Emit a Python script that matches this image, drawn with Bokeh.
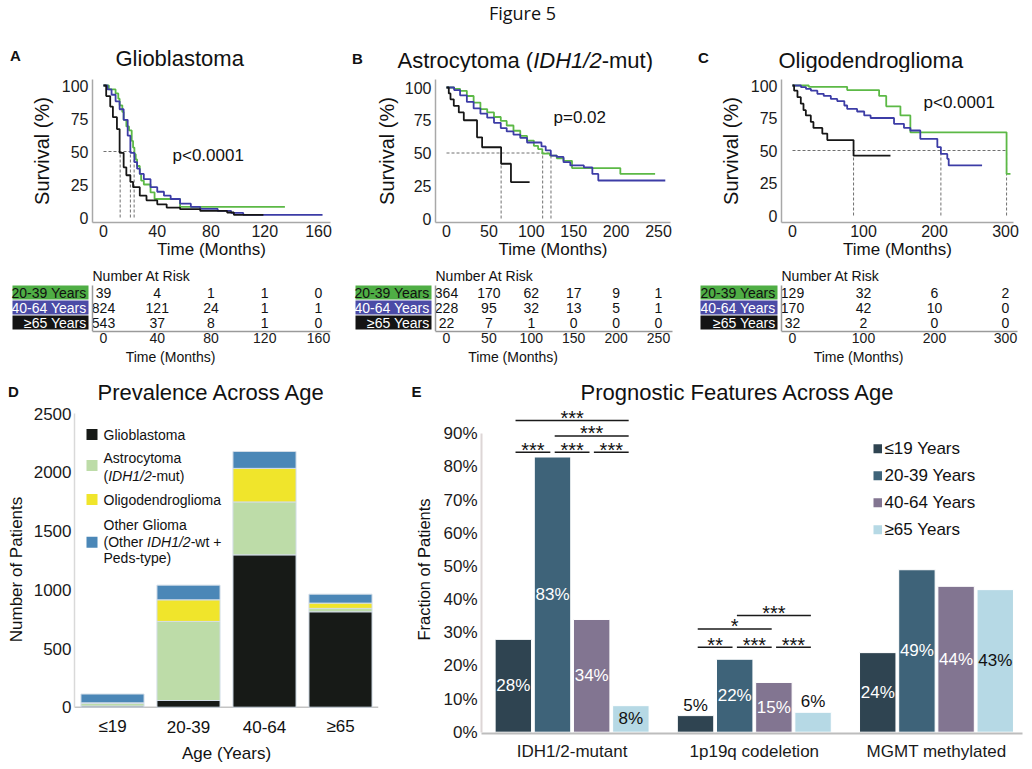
from bokeh.plotting import figure
from bokeh.models import Range1d, FixedTicker
from bokeh.layouts import column, row
from bokeh.embed import file_html
from bokeh.resources import INLINE
from bokeh.core.properties import value

FONT = "Liberation Sans"

# ======================= DATA =======================
km_groups = ["20-39 Years", "40-64 Years", "≥65 Years"]

# A: Glioblastoma (months, survival %)
gbm_t_2039 = [0, 4, 9, 11, 12, 14, 15, 17, 19, 21, 22, 23, 24, 25, 27, 28, 30, 35, 38, 57, 135]
gbm_s_2039 = [100, 97, 94, 90, 85, 80, 74, 69, 66, 58, 53, 48, 44, 39, 33, 28, 25, 19, 14, 8, 8]
gbm_t_4064 = [0, 3, 6, 9, 12, 15, 18, 20, 23, 25, 27, 30, 35, 40, 45, 50, 57, 65, 72, 85, 95, 104, 163]
gbm_s_4064 = [100, 97, 93, 88, 82, 74, 62, 49, 42, 37, 33, 29, 23, 19.5, 16.5, 14, 10.5, 8, 6.5, 5, 3.5, 2, 2]
gbm_t_65 = [0, 2, 5, 7, 10, 12, 15, 17, 20, 22, 27, 32, 40, 47, 57, 72, 92, 97, 119]
gbm_s_65 = [100, 92, 84, 76, 67, 49, 38, 32, 27, 23, 16.5, 13, 10, 7.5, 6.3, 5, 3.8, 2, 2]
gbm_medians = [22.8, 20.0, 12.4]
gbm_pvalue = "p<0.0001"

# B: Astrocytoma (IDH1/2-mut)
astro_t_2039 = [0, 9, 16, 24, 32, 40, 48, 56, 64, 71, 79, 87, 95, 103, 108, 113, 122, 130, 138, 148, 205, 246]
astro_s_2039 = [100, 99, 97.5, 93.5, 88.5, 83.5, 81, 77.5, 74.5, 71, 67, 63, 59.5, 55.5, 53, 49.5, 48, 46, 44, 38.5, 34, 34]
astro_t_4064 = [0, 9, 16, 24, 32, 40, 48, 56, 64, 71, 79, 87, 95, 112, 117, 123, 130, 138, 146, 162, 172, 179, 258]
astro_s_4064 = [100, 98, 94, 89, 84, 80, 77, 73, 69, 66.5, 64, 61.5, 58, 55, 52, 48, 47, 43, 40.5, 39, 34, 29, 29]
astro_t_65 = [0, 2.7, 4.7, 8.6, 14.5, 20.4, 36, 42, 64.4, 76, 98]
astro_s_65 = [100, 95.5, 91, 86, 81, 75, 62, 54.4, 41.8, 27.8, 27.8]
astro_medians = [113.4, 123.2, 64.4]
astro_pvalue = "p=0.02"

# C: Oligodendroglioma
oligo_t_2039 = [0, 23, 77, 122, 132, 152, 166, 301.5, 307]
oligo_s_2039 = [100, 99, 96.5, 92, 84, 77, 64, 32, 32]
oligo_t_4064 = [0, 12, 19, 26, 35, 44, 54, 63, 73, 77, 91, 101, 110, 143, 157, 166, 180, 204, 209, 218, 220, 267]
oligo_s_4064 = [100, 98.7, 97.4, 96, 93.6, 92, 89.7, 88, 84.6, 82, 80, 77, 75, 70.5, 67.4, 65.4, 59, 52.6, 47.4, 43.6, 38.5, 38.5]
oligo_t_65 = [0, 2.3, 7, 11.7, 15.5, 18.8, 25.8, 29.5, 42, 49, 86, 138]
oligo_s_65 = [100, 96, 91, 86, 81, 77, 72, 67.4, 63, 58, 46, 46]
oligo_medians = [301.5, 209, 86]
oligo_pvalue = "p<0.0001"

# Number at risk tables
gbm_risk_times = [0, 40, 80, 120, 160]
gbm_risk = [[39, 4, 1, 1, 0], [824, 121, 24, 1, 1], [543, 37, 8, 1, 0]]
astro_risk_times = [0, 50, 100, 150, 200, 250]
astro_risk = [[364, 170, 62, 17, 9, 1], [228, 95, 32, 13, 5, 1], [22, 7, 1, 0, 0, 0]]
oligo_risk_times = [0, 100, 200, 300]
oligo_risk = [[129, 32, 6, 2], [170, 42, 10, 0], [32, 2, 0, 0]]

# D: Prevalence across age (number of patients)
prev_ages = ["≤19", "20-39", "40-64", "≥65"]
prev_gbm = [10, 57, 1298, 813]
prev_astro = [22, 674, 451, 29]
prev_oligo = [5, 184, 286, 45]
prev_other = [75, 125, 144, 76]

# E: Prognostic features across age (% of patients)
feat_names = ["IDH1/2-mutant", "1p19q codeletion", "MGMT methylated"]
feat_ages = ["≤19 Years", "20-39 Years", "40-64 Years", "≥65 Years"]
frac_le19 = [28, 5, 24]
frac_2039 = [83, 22, 49]
frac_4064 = [34, 15, 44]
frac_ge65 = [8, 6, 43]
sig_feature = [0, 0, 0, 0, 0, 1, 1, 1, 1, 1]
sig_a = [0, 1, 0, 1, 2, 1, 0, 0, 1, 2]
sig_b = [3, 3, 1, 2, 3, 3, 2, 1, 2, 3]
sig_level = [94.0, 89.3, 84.4, 84.4, 84.4, 35.2, 31.1, 25.6, 25.6, 25.6]
sig_stars = ["***", "***", "***", "***", "***", "***", "*", "**", "***", "***"]

# ======================= STYLE =======================
KM_COLORS = ["#5cb946", "#3c3ca6", "#161616"]
BOX_FILL = ["#4fae45", "#4b4ba6", "#141414"]
BOX_TEXT = ["#111111", "#ffffff", "#ffffff"]
PREV_COLORS = ["#171a17", "#bddca8", "#f0e52b", "#4b87b7"]
FEAT_COLORS = ["#2f4451", "#3e6379", "#827591", "#b6d9e5"]
TXT = "#111111"

ARIAL_W = {'A': 667, 's': 500, 't': 278, 'r': 333, 'o': 556, 'c': 500, 'y': 500, 'm': 833,
           'a': 556, ' ': 278, '(': 333, ')': 333, 'I': 278, 'D': 722, 'H': 722, '1': 556,
           '/': 278, '2': 556, '-': 333, 'u': 556, 'O': 778, 'h': 556, 'e': 556, 'w': 722,
           '+': 584}


def text_w(s, size):
    return sum(ARIAL_W.get(ch, 556) for ch in s) / 1000.0 * size


class Frame:
    """Figure placed at screen pixel (L, T); anchors map screen pixels to data values."""
    def __init__(self, L, T, W, H, bl, br, bt, bb, xa, ya):
        self.L, self.T, self.W, self.H = L, T, W, H
        self.bl, self.br, self.bt, self.bb = bl, br, bt, bb
        self.FL, self.FR = L + bl, L + W - br
        self.FT, self.FB = T + bt, T + H - bb
        self.xa, self.ya = xa, ya
        self.sx = (xa[3] - xa[1]) / (xa[2] - xa[0])
        self.sy = (ya[3] - ya[1]) / (ya[2] - ya[0])

    def X(self, px):
        return self.xa[1] + (px - self.xa[0]) * self.sx

    def Y(self, py):
        return self.ya[1] + (py - self.ya[0]) * self.sy


PIX = ((0, 0, 100, 100), (0, 0, 100, -100))   # identity pixel mapping for strips


def new_fig(fr, xaxis="below", yaxis="left"):
    p = figure(width=fr.W, height=fr.H,
               x_range=Range1d(fr.X(fr.FL), fr.X(fr.FR)),
               y_range=Range1d(fr.Y(fr.FB), fr.Y(fr.FT)),
               x_axis_location=xaxis, y_axis_location=yaxis,
               output_backend="svg", toolbar_location=None, title=None,
               min_border_left=fr.bl, min_border_right=fr.br,
               min_border_top=fr.bt, min_border_bottom=fr.bb)
    p.outline_line_color = None
    p.grid.visible = False
    p.background_fill_color = "white"
    p.border_fill_color = "white"
    return p


def style_axes(p, tick_size, label_size, line_color, line_width=1.5):
    for ax in p.axis:
        ax.axis_line_color = line_color
        ax.axis_line_width = line_width
        ax.major_tick_line_color = None
        ax.minor_tick_line_color = None
        ax.major_tick_in = 0
        ax.major_tick_out = 0
        ax.minor_tick_in = 0
        ax.minor_tick_out = 0
        ax.major_label_text_font = FONT
        ax.major_label_text_font_size = f"{tick_size}px"
        ax.major_label_text_color = "#1a1a1a"
        ax.axis_label_text_font = FONT
        ax.axis_label_text_font_size = f"{label_size}px"
        ax.axis_label_text_font_style = "normal"
        ax.axis_label_text_color = TXT


def add_text(p, xs, ys, texts, size, color=TXT, align="center", baseline="middle",
             style="normal", font=FONT):
    p.text(x=xs, y=ys, text=texts, text_font=value(font), text_font_size=value(f"{size}px"),
           text_color=color, text_align=align, text_baseline=baseline,
           text_font_style=style)


def put(p, fr, px, py, text, size, **kw):
    add_text(p, [fr.X(px)], [fr.Y(py)], [text], size, **kw)


def put_runs(p, fr, px, py, runs, size):
    x = px
    for txt, st in runs:
        put(p, fr, x, py, txt, size, align="left", style=st)
        x += text_w(txt, size)


# ======================= TOP STRIP (figure title, A/B/C titles) =======================
frS1 = Frame(0, 0, 1030, 72, 0, 0, 0, 0, *PIX)
pS1 = new_fig(frS1, xaxis=None, yaxis=None)
put(pS1, frS1, 522, 12, "Figure 5", 18, font="Open Sans")
put(pS1, frS1, 15, 55, "A", 15, style="bold")
put(pS1, frS1, 115, 58, "Glioblastoma", 22, align="left")
put(pS1, frS1, 357, 58, "B", 15, style="bold")
put_runs(pS1, frS1, 397, 60, [("Astrocytoma (", "normal"), ("IDH1/2", "italic"), ("-mut)", "normal")], 22)
put(pS1, frS1, 703, 57, "C", 15, style="bold")
put(pS1, frS1, 778, 60, "Oligodendroglioma", 22, align="left")


# ======================= KM PANELS =======================
def km_panel(fr, curves, medians, pval, pval_px, xticks):
    p = new_fig(fr)
    style_axes(p, 16, 17, "#a8a8a8")
    p.xaxis.axis_label = "Time (Months)"
    p.yaxis.axis_label = "Survival (%)"
    p.yaxis.axis_label_text_font_size = "20px"
    p.xaxis.ticker = FixedTicker(ticks=xticks)
    p.yaxis.ticker = FixedTicker(ticks=[0, 25, 50, 75, 100])
    p.xaxis.major_label_standoff = 2
    p.xaxis.axis_label_standoff = 0
    p.yaxis.major_label_standoff = 4
    p.yaxis.axis_label_standoff = 6
    p.segment(x0=medians, y0=[0] * len(medians), x1=medians, y1=[50] * len(medians),
              line_color="#707070", line_dash="3 2", line_width=1)
    p.segment(x0=[0], y0=[50], x1=[max(medians)], y1=[50],
              line_color="#707070", line_dash="3 2", line_width=1)
    for (t, s), c in zip(curves, KM_COLORS):
        p.step(x=t, y=s, mode="after", line_color=c, line_width=1.8)
    put(p, fr, pval_px[0], pval_px[1], pval, 17, align="left")
    return p


frA = Frame(0, 72, 340, 194, 92, 10, 7, 44, xa=(103, 0, 318, 160), ya=(85, 100, 217, 0))
pA = km_panel(frA, [(gbm_t_2039, gbm_s_2039), (gbm_t_4064, gbm_s_4064), (gbm_t_65, gbm_s_65)],
              gbm_medians, gbm_pvalue, (172, 155), gbm_risk_times)

frB = Frame(340, 72, 350, 194, 95, 20, 7, 44, xa=(446, 0, 658, 250), ya=(87, 100, 218, 0))
pB = km_panel(frB, [(astro_t_2039, astro_s_2039), (astro_t_4064, astro_s_4064), (astro_t_65, astro_s_65)],
              astro_medians, astro_pvalue, (553, 117), astro_risk_times)
pB.yaxis.axis_label_standoff = 4

frC = Frame(690, 72, 340, 194, 91, 17, 7, 44, xa=(792, 0, 1005, 300), ya=(85, 100, 215, 0))
pC = km_panel(frC, [(oligo_t_2039, oligo_s_2039), (oligo_t_4064, oligo_s_4064), (oligo_t_65, oligo_s_65)],
              oligo_medians, oligo_pvalue, (923, 102), oligo_risk_times)


# ======================= RISK TABLES =======================
def risk_panel(fr, times, counts, box_l, box_r, vline_px, axis_r_px):
    p = new_fig(fr, yaxis=None)
    style_axes(p, 14, 14, "#9a9a9a")
    p.xaxis.ticker = FixedTicker(ticks=times)
    p.xaxis.bounds = (fr.X(vline_px), fr.X(axis_r_px))
    p.xaxis.axis_label = "Time (Months)"
    p.xaxis.major_label_standoff = 1
    p.xaxis.axis_label_standoff = 3
    n = len(km_groups)
    rows_y = [n - i for i in range(n)]
    half = 7 * abs(fr.sy)
    for i, grp in enumerate(km_groups):
        yv = rows_y[i]
        p.quad(left=[fr.X(box_l)], right=[fr.X(box_r)], top=[yv + half], bottom=[yv - half],
               fill_color=BOX_FILL[i], line_color=None)
        add_text(p, [fr.X(box_r - 2)], [yv], [grp], 14, color=BOX_TEXT[i], align="right")
        add_text(p, times, [yv] * len(times), [str(v) for v in counts[i]], 14)
    p.segment(x0=[fr.X(vline_px)], y0=[fr.Y(285)], x1=[fr.X(vline_px)], y1=[fr.Y(fr.FB)],
              line_color="#9a9a9a", line_width=1.5)
    put(p, fr, vline_px, 275, "Number At Risk", 14, align="left")
    return p


tA_fr = Frame(0, 266, 340, 106, 10, 10, 0, 41, xa=(103, 0, 318, 160), ya=(292, 3, 322, 1))
tA = risk_panel(tA_fr, gbm_risk_times, gbm_risk, 12, 88, 92, 330)
tB_fr = Frame(340, 266, 350, 106, 13, 18, 0, 41, xa=(446, 0, 658, 250), ya=(292, 3, 322, 1))
tB = risk_panel(tB_fr, astro_risk_times, astro_risk, 355, 431, 435, 672)
tC_fr = Frame(690, 266, 340, 106, 8, 12, 0, 41, xa=(792, 0, 1005, 300), ya=(292, 3, 322, 1))
tC = risk_panel(tC_fr, oligo_risk_times, oligo_risk, 700, 777, 781, 1017)

# ======================= MIDDLE STRIP (D/E titles) =======================
frS2 = Frame(0, 372, 1030, 33, 0, 0, 0, 0, *PIX)
pS2 = new_fig(frS2, xaxis=None, yaxis=None)
put(pS2, frS2, 13, 391, "D", 15, style="bold")
put(pS2, frS2, 97, 391.5, "Prevalence Across Age", 22, align="left")
put(pS2, frS2, 416, 391, "E", 15, style="bold")
put(pS2, frS2, 737.7, 391.5, "Prognostic Features Across Age", 22)

# ======================= PANEL D =======================
frD = Frame(0, 405, 400, 362, 74, 22, 0, 34, xa=(112, 0, 188, 1), ya=(706.7, 0, 413.3, 2500))
pD = new_fig(frD)
style_axes(pD, 17, 17, "#d9d9d9", 1.5)
pD.xaxis.axis_line_color = None
pD.xaxis.ticker = FixedTicker(ticks=[])
pD.xaxis.major_label_standoff = 0
pD.xaxis.axis_label = "Age (Years)"
pD.xaxis.axis_label_standoff = 10
pD.yaxis.ticker = FixedTicker(ticks=[0, 500, 1000, 1500, 2000, 2500])
pD.yaxis.bounds = (0, 2500)
pD.yaxis.axis_label = "Number of Patients"
pD.yaxis.major_label_standoff = 3
pD.yaxis.axis_label_standoff = 5
xD = list(range(len(prev_ages)))
pD.segment(x0=[frD.X(frD.FL)], y0=[0], x1=[frD.X(frD.FR)], y1=[0], line_color="#c4c4c4", line_width=1.5)
srcD = dict(x=xD, gbm=prev_gbm, astro=prev_astro, oligo=prev_oligo, other=prev_other)
pD.vbar_stack(["gbm", "astro", "oligo", "other"], x="x", width=0.83, source=srcD,
              fill_color=PREV_COLORS, line_color="#d3dde8", line_width=1)
add_text(pD, xD, [frD.Y(726)] * len(xD), prev_ages, 17)
# legend
leg_D = [
    (434.0, [(434.0, [("Glioblastoma", "normal")])]),
    (465.0, [(457.7, [("Astrocytoma", "normal")]),
             (475.0, [("(", "normal"), ("IDH1/2", "italic"), ("-mut)", "normal")])]),
    (499.0, [(499.0, [("Oligodendroglioma", "normal")])]),
    (541.7, [(524.0, [("Other Glioma", "normal")]),
             (541.3, [("(Other ", "normal"), ("IDH1/2", "italic"), ("-wt +", "normal")]),
             (557.7, [("Peds-type)", "normal")])]),
]
for (sq_y, lines), col in zip(leg_D, PREV_COLORS):
    pD.quad(left=[frD.X(86)], right=[frD.X(97)], top=[frD.Y(sq_y - 5.5)], bottom=[frD.Y(sq_y + 5.5)],
            fill_color=col, line_color=None)
    for ly, runs in lines:
        put_runs(pD, frD, 103, ly, runs, 14)

# ======================= PANEL E =======================
frE = Frame(400, 405, 630, 362, 81, 8, 0, 34, xa=(571.6, 0, 753.8, 1), ya=(731.7, 0, 433.3, 90))
pE = new_fig(frE)
style_axes(pE, 17, 16.5, "#bdbdbd", 2)
pE.yaxis.axis_line_color = "#ddd6d6"
pE.xaxis.ticker = FixedTicker(ticks=list(range(len(feat_names))))
pE.xaxis.major_label_overrides = {i: n for i, n in enumerate(feat_names)}
yt = list(range(0, 100, 10))
pE.yaxis.ticker = FixedTicker(ticks=yt)
pE.yaxis.major_label_overrides = {v: f"{v}%" for v in yt}
pE.yaxis.bounds = (0, 90)
pE.yaxis.axis_label = "Fraction of Patients"
pE.xaxis.major_label_standoff = 8
pE.yaxis.major_label_standoff = 4
pE.yaxis.axis_label_standoff = 7

BAR_STEP = 0.215
BAR_W = 0.2
series = [frac_le19, frac_2039, frac_4064, frac_ge65]
for k, vals in enumerate(series):
    xs = [g + (k - 1.5) * BAR_STEP for g in range(len(feat_names))]
    pE.vbar(x=xs, top=vals, width=BAR_W, bottom=0, fill_color=FEAT_COLORS[k],
            line_color="white", line_width=1)
    ly, lc = [], []
    for v in vals:
        if v < 7:
            ly.append(v + 3.2)
            lc.append(TXT)
        else:
            ly.append(v / 2.0)
            lc.append(TXT if k == 3 else "#ffffff")
    add_text(pE, xs, ly, [f"{v}%" for v in vals], 17, color=lc)

gap = 0.012
bx0, bx1, tx, ty = [], [], [], []
for f, a, b, lvl in zip(sig_feature, sig_a, sig_b, sig_level):
    xa_ = f + (a - 1.5) * BAR_STEP + gap
    xb_ = f + (b - 1.5) * BAR_STEP - gap
    bx0.append(xa_)
    bx1.append(xb_)
    tx.append((xa_ + xb_) / 2)
    ty.append(lvl + 0.8)
pE.segment(x0=bx0, y0=sig_level, x1=bx1, y1=sig_level, line_color="#1a1a1a", line_width=1.5)
add_text(pE, tx, ty, sig_stars, 20)

for k, name in enumerate(feat_ages):
    yc = 448.3 + 27.0 * k
    pE.quad(left=[frE.X(873)], right=[frE.X(881.5)], top=[frE.Y(yc - 4.5)], bottom=[frE.Y(yc + 4.5)],
            fill_color=FEAT_COLORS[k], line_color=None)
    put(pE, frE, 884, yc, name, 17, align="left")

# ======================= LAYOUT =======================
layout = column(pS1, row(pA, pB, pC), row(tA, tB, tC), pS2, row(pD, pE))
open("out.html", "w").write(file_html(layout, INLINE))
